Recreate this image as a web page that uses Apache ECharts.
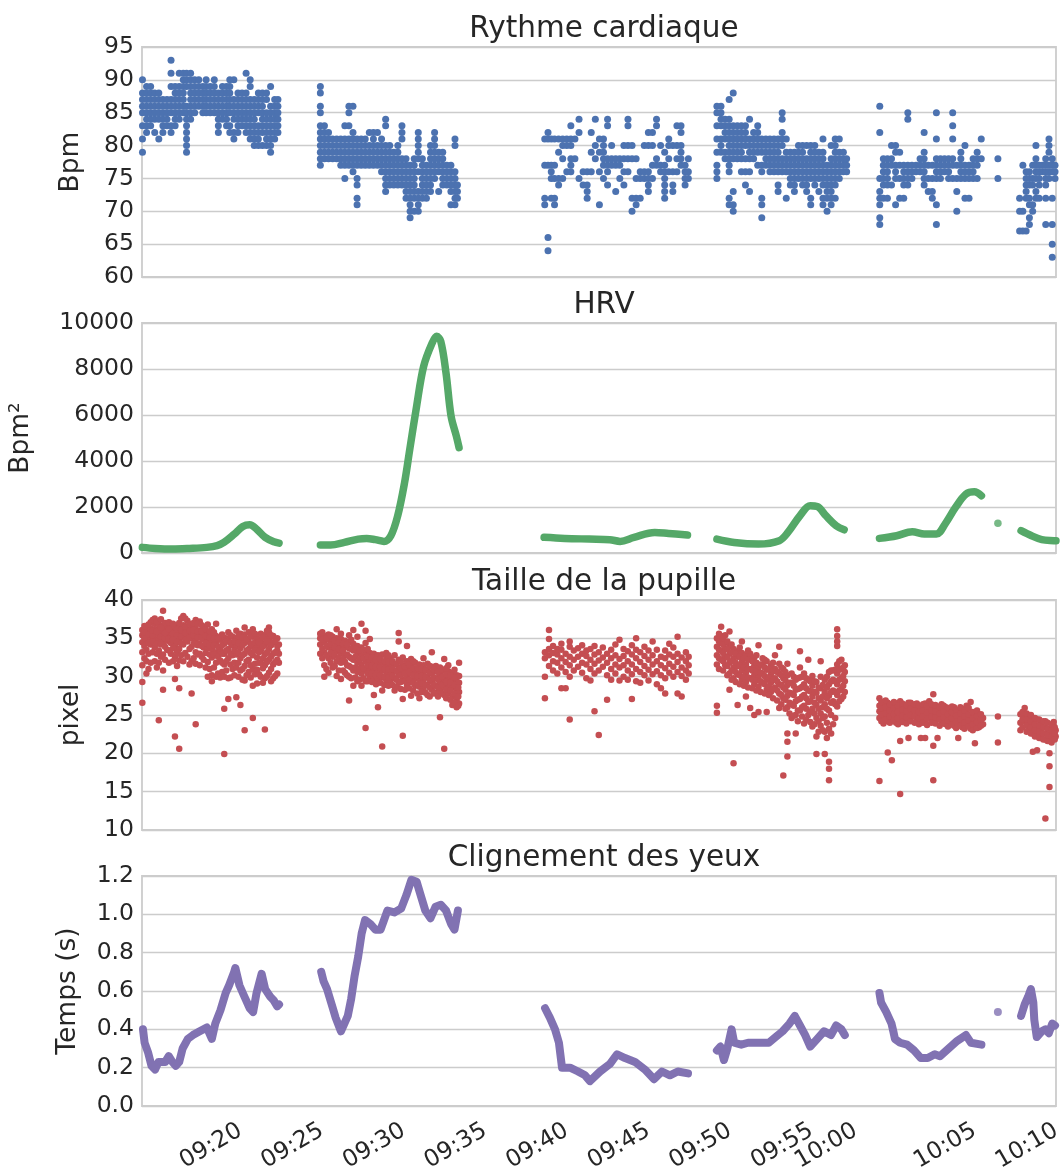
<!DOCTYPE html>
<html><head><meta charset="utf-8">
<script src="https://cdn.jsdelivr.net/npm/echarts@6/dist/echarts.min.js"></script>
<style>html,body{margin:0;padding:0;background:#fff}#c{width:1062px;height:1173px}</style>
</head><body><div id="c"></div><script>
// ---- x axis (minutes after 09:00) ----
const xMin = 15.77, xMax = 71.78;
const xLabelPos = [20, 25, 30, 35, 40, 45, 50, 55, 57.7, 65, 70];
const xLabelText = ['09:20','09:25','09:30','09:35','09:40','09:45','09:50','09:55','10:00','10:05','10:10'];

// ---- titles / axis names ----
const panelTitles = ['Rythme cardiaque', 'HRV', 'Taille de la pupille', 'Clignement des yeux'];
const axisNames = ['Bpm', 'Bpm²', 'pixel', 'Temps (s)'];

// ---- Rythme cardiaque: [minute, [bpm values]] ----
const hrColumns = [
[15.8,[79,81,83,85,86,87,88,90]],[16.05,[82,83,84,85,86,87,88,89]],[16.3,[83,84,85,86,87,88,89]],
[16.55,[82,84,85,86,87,88]],[16.8,[81,84,85,86,87,88]],[17.05,[82,83,84,85,86,87]],[17.3,[83,84,85,86,87]],
[17.55,[82,83,85,86,87,89,91,93]],[17.8,[83,84,85,86,87,88,89]],[18.05,[84,85,86,87,88,89,91]],
[18.3,[85,86,87,88,89,90,91]],[18.5,[79,80,81,82,83,84,85,86,89,90,91]],[18.75,[84,85,86,87,88,89,90,91]],
[19.0,[85,86,87,88,89,90]],[19.25,[86,87,88,89,90]],[19.5,[85,86,87,88,89]],[19.7,[85,86,87,88,89,90]],
[19.95,[85,86,87,88,89]],[20.2,[85,86,87,88,89,90]],[20.45,[82,83,84,85,86,87,88]],[20.7,[84,85,86,87,88,89]],
[20.95,[83,84,85,86,87,88,89]],[21.15,[82,83,85,86,87,88,89,90]],[21.4,[81,82,84,85,86,87,90]],
[21.65,[82,83,84,85,86,87,88]],[21.9,[83,84,85,86,87,88]],[22.15,[82,83,84,85,86,87,88,91]],
[22.4,[81,82,83,84,85,86,87,89,90]],[22.65,[80,81,82,83,84,85,86,87]],[22.9,[80,81,82,83,85,86,87,88]],
[23.15,[80,82,83,84,85,86,87,88]],[23.4,[80,81,82,83,84,85,87,88]],[23.65,[79,80,81,82,83,84,85,86,89]],
[23.9,[81,82,83,84,85,86,87]],[24.1,[82,83,84,85,86,87]],
[26.7,[77,78,79,80,81,82,83,85,86,88,89]],[26.95,[78,79,80,81,82,83]],[27.2,[78,79,80,81,82]],
[27.45,[78,79,80,81]],[27.7,[78,79,80,81]],[27.95,[77,78,79,80,81]],[28.2,[75,77,78,79,80,81,83]],
[28.45,[77,78,79,80,81,83,85,86]],[28.7,[76,77,78,79,80,81,82,86]],[28.95,[71,72,74,75,77,78,79,80,81]],
[29.2,[77,78,79,80,81]],[29.45,[77,78,79,80,81]],[29.7,[77,78,79,80,82]],[29.95,[77,78,79,80,81,82]],
[30.2,[77,78,79,80,82]],[30.45,[76,77,78,79,80,81]],[30.7,[73,74,75,76,77,78,79,80,83,84]],
[30.95,[74,75,76,77,78,79,80]],[31.2,[74,75,76,77,78,79]],[31.45,[74,75,76,77,78,79,80]],
[31.7,[74,75,76,77,78,81,82,83]],[31.95,[72,73,74,75,76,77,78]],[32.2,[69,70,71,72,73,74,75,76,77]],
[32.45,[70,72,73,74,75,76,77,78]],[32.7,[70,71,72,73,76,78,79,80,81,82]],[32.95,[72,73,74,75,76,77,78]],
[33.2,[72,73,74,75,76,77]],[33.45,[73,74,75,76,77,78,79,80]],[33.7,[75,76,77,78,79,80,81,82]],
[33.95,[73,76,77,78,79]],[34.2,[74,75,76,77,78,79]],[34.45,[74,75,76,77]],[34.7,[71,73,74,75,76,77]],
[34.95,[71,72,73,74,75,76,80,81]],[35.1,[72,73,74]],
[40.45,[71,72,77,81]],[40.65,[64,66,77,81,82]],[40.85,[72,75,76,77,81]],[41.05,[71,72,75,77,81]],
[41.3,[74,75,79,81]],[41.55,[75,78,80,81]],[41.8,[76,80,81]],[42.05,[76,77,78,80,81,83]],[42.3,[78,81]],
[42.55,[75,82,84]],[42.8,[74,76]],[43.05,[72,73,74,76]],[43.3,[76,79,82]],[43.55,[78,80,84]],
[43.8,[71,76,79,81]],[44.05,[75,77,78,79,80,81]],[44.3,[74,76,77,78,83,84]],[44.55,[77,78,80]],
[44.8,[73,77,78]],[45.05,[75,77,78]],[45.3,[74,76,78,80]],[45.55,[76,78,80,83,84]],[45.8,[70,72,78,80]],
[46.05,[71,72,75,78]],[46.3,[72,75,76]],[46.55,[75,76,80]],[46.8,[73,74,75,76,80,82]],[47.05,[75,77,80,82]],
[47.3,[77,78,83,84]],[47.55,[76,77,80]],[47.8,[72,73,74,75,76,77,79]],[48.05,[76,78,80,81]],
[48.3,[73,74,76,80]],[48.55,[76,78,80,83]],[48.8,[77,78,79,80,82,83]],[49.05,[74,75,76,77]],[49.25,[75,76,78]],
[51.0,[75,76,77,79,81,83,85,86]],[51.25,[79,80,81,83,84,85,86]],[51.5,[78,79,81,82,83,84]],
[51.75,[71,72,76,77,78,79,80,81,82,83,84,87]],[52.0,[70,71,73,78,79,80,81,82,83,88]],[52.25,[78,79,80,81,82,83]],
[52.5,[76,78,79,80,81,82,83]],[52.75,[74,76,78,80,81,82,83]],[53.0,[73,76,78,79,80,81,84]],
[53.25,[78,79,80,81,82]],[53.5,[77,79,80,81,82,83]],[53.75,[69,71,72,76,77,79,80,81]],[54.0,[77,78,79,80,81]],
[54.25,[76,77,78,79,80,81]],[54.5,[76,77,78,79,80,81]],[54.75,[73,74,76,77,78,79,80,81]],
[55.0,[76,77,78,80,81,82,84,85]],[55.25,[72,76,77,78,79,81]],[55.5,[74,75,76,77,78,79]],
[55.75,[73,74,75,76,77,78,79]],[56.0,[75,76,77,78,79,80]],[56.25,[74,75,76,77,78,79,80]],
[56.5,[73,74,75,76,77,78,80]],[56.75,[71,72,75,76,77,78,79,80]],[57.0,[74,75,76,77,78,79,80]],
[57.25,[73,75,76,77,78,79]],[57.5,[71,72,74,75,76,77,78,79,81]],[57.75,[70,72,73,74,75,76,77]],
[58.0,[71,72,73,74,75,76,77,78,80]],[58.25,[72,74,75,76,77,78,79,80,81]],[58.5,[75,76,77,78,79,81]],
[58.75,[76,77,78,79]],[58.95,[76,77,78]],
[60.98,[68,69,71,72,73,75,82,86]],[61.2,[72,74,75,76,77,78]],[61.45,[72,74,75,76,77,78]],[61.7,[74,77,78,80]],
[61.95,[71,75,76,77,79,80]],[62.2,[72,75,77,79]],[62.45,[72,74,75,76,77]],[62.7,[74,75,76,77,84,85]],
[62.95,[75,76,77]],[63.2,[76,77]],[63.45,[76,77,78]],[63.7,[74,75,76,77,78,79,82]],[63.95,[73,75,77]],
[64.2,[72,73,75,77]],[64.45,[68,71,75,76,77,78,81,85]],[64.7,[75,76,77,78]],[64.95,[76,77,78]],
[65.2,[75,76,77,78]],[65.45,[75,77,78,81,83,85]],[65.7,[70,73,75,77]],[65.95,[75,76,77,78,79]],
[66.2,[72,75,76,77,80]],[66.45,[72,75,76,77]],[66.7,[75,76,77,78]],[66.95,[75,77,78,79]],[67.2,[78,81]],
[68.22,[75,78]],
[69.55,[67,70,72]],[69.75,[67,70,77]],[69.95,[67,72,73,74,75,76]],[70.15,[68,69,71,72,74,75,76]],
[70.35,[70,71,74,75,77]],[70.55,[72,73,75,76,77,78,80]],[70.75,[72,74,75,76,77]],[70.95,[76,77]],
[71.15,[68,72,74,75,76,77,78]],[71.35,[75,76,77,79,80,81]],[71.55,[63,65,68,72,76,77,78]],[71.72,[75,76,77]]
];

// ---- HRV (Bpm²), one array per continuous segment ----
const hrvSegA = [[15.79,245],[16.57,200],[17.63,175],[18.68,200],[19.74,245],[20.37,320],[20.79,460],[21.42,820],[21.95,1155],[22.37,1230],[22.79,1040],[23.32,680],[23.85,490],[24.17,430]];
const hrvSegB = [[26.7,345],[27.33,345],[28.17,460],[29.02,605],[29.54,635],[30.07,580],[30.6,505],[31.02,750],[31.44,1620],[31.86,3060],[32.18,4510],[32.6,6390],[33.03,8120],[33.55,9130],[33.83,9420],[34.08,9200],[34.4,7830],[34.71,5950],[35.03,5090],[35.2,4580]];
const hrvSegC = [[40.41,680],[41.68,635],[43.17,605],[44.44,580],[45.07,505],[45.92,680],[47.19,895],[48.04,850],[49.2,780]];
const hrvSegD = [[51.0,605],[52.06,460],[53.55,390],[54.82,535],[55.35,895],[56.09,1620],[56.72,2050],[57.15,2020],[57.68,1620],[58.31,1185],[58.8,1010]];
const hrvSegE = [[60.96,635],[62.02,750],[62.97,925],[63.71,825],[64.45,825],[64.98,1255],[65.62,1980],[66.26,2560],[66.78,2660],[67.21,2485]];
const hrvSegF = [[69.64,970],[70.28,750],[70.91,580],[71.66,535],[71.78,530]];
const hrvLone = [[68.22,1290]];

// ---- Taille de la pupille: [minute, [pixel values]] ----
const pupilColumns = [
[15.79,[26.6,29.3,31.5,33.2,34.5,35.4,36.1]],[16.04,[30.4,32.0,33.5,34.6,35.3,35.9,36.4]],[16.3,[31.8,34.2,35.0,35.7,36.3,37.1]],
[16.55,[32.0,33.8,34.9,35.6,36.2,36.9,37.6]],[16.8,[24.3,31.8,33.4,34.8,35.5,36.1,36.8]],[17.06,[28.3,30.8,32.9,34.5,35.3,36.0,36.7,38.6]],
[17.31,[33.5,34.7,35.4,36.0,36.6]],[17.54,[33.0,34.4,35.2,35.8,36.4]],[17.79,[22.2,29.7,32.6,34.0,35.1,35.9,36.5]],
[18.05,[20.6,28.5,32.1,33.6,34.8,35.7,36.3,37.0]],[18.3,[32.0,34.2,35.2,35.9,36.7,37.9]],[18.55,[32.6,34.6,35.5,36.2,37.3]],
[18.81,[27.8,32.0,33.9,35.0,35.8,36.4]],[19.06,[23.8,31.7,33.2,34.8,35.6,36.3,37.4]],[19.31,[31.5,33.0,34.3,35.2,36.0,37.2]],
[19.55,[32.2,33.8,34.9,35.7,36.5]],[19.8,[30.0,31.9,33.7,34.8,35.5,36.8]],[20.05,[29.4,30.2,32.5,33.6,34.6,35.4,36.2]],
[20.31,[30.0,31.8,33.2,34.5,35.3,36.9]],[20.56,[29.9,32.1,33.5,34.8]],[20.81,[19.9,25.8,30.0,31.6,33.0,34.3,35.1]],
[21.06,[27.1,29.8,32.4,33.6,34.9,35.8]],[21.32,[31.0,32.8,34.1,35.2]],[21.55,[27.3,31.2,32.9,34.0,35.0,36.0]],
[21.8,[26.3,30.8,32.4,33.7,34.8,35.6]],[22.06,[23.0,29.5,31.4,33.0,34.4,35.5,36.4]],[22.31,[30.6,32.2,33.6,34.6,35.8]],
[22.56,[24.6,28.8,31.0,32.8,34.0,35.2,36.2]],[22.82,[29.1,30.9,32.5,33.9,35.0]],[23.05,[30.0,31.8,33.4,34.6,35.6]],
[23.3,[23.1,29.8,31.5,32.9,34.2,35.4]],[23.55,[30.5,32.2,33.6,34.9,35.8,36.4]],[23.81,[29.8,31.6,33.0,34.5,35.3]],
[24.06,[30.4,32.2,33.4,34.0,35.0]],[24.16,[31.8,33.0,34.2]],
[26.69,[33.0,34.2,35.0,35.6]],[26.94,[30.0,31.5,33.2,34.5,35.3]],[27.2,[30.5,32.4,33.8,34.8,35.5]],
[27.45,[31.2,32.6,33.5,34.6,35.2]],[27.7,[30.1,32.0,33.3,34.2,35.0,36.2]],[27.96,[29.7,31.8,33.0,34.0,34.9,35.6]],
[28.21,[30.5,31.9,32.8,33.9,34.7]],[28.46,[26.9,30.0,31.4,32.6,33.7,34.5,35.4]],[28.72,[28.8,30.8,32.2,33.4,34.3,36.1]],
[28.97,[29.4,30.6,31.8,33.0,34.0,35.2]],[29.22,[28.8,30.4,31.6,32.8,33.8,36.9]],[29.47,[23.3,29.4,30.8,32.0,33.2,34.4,36.0]],
[29.73,[29.9,31.0,32.1,33.1,34.9]],[29.98,[27.6,29.8,30.9,31.9,33.0]],[30.23,[26.0,29.6,30.6,31.7,32.8]],
[30.49,[20.9,28.2,29.9,30.8,31.8,32.9]],[30.74,[29.5,30.6,31.5,32.6,33.1]],[30.99,[29.4,30.4,31.3,32.4]],
[31.25,[28.2,29.8,30.7,31.6,32.8]],[31.5,[29.2,30.3,31.2,32.2,34.6,35.7]],[31.75,[22.3,27.1,29.6,30.6,31.5,32.5]],
[32.01,[28.9,30.0,31.0,32.0,34.0]],[32.26,[27.5,29.3,30.4,31.4,32.3]],[32.51,[28.8,29.8,30.8,31.8]],
[32.77,[27.2,28.7,29.7,30.6,31.6]],[33.02,[28.4,29.5,30.5,31.5,32.4]],[33.27,[27.6,28.9,29.9,30.8,31.7]],
[33.53,[28.3,29.4,30.4,31.3,33.2]],[33.78,[27.9,28.8,29.8,30.7,31.4]],[34.03,[24.7,28.2,29.3,30.3,31.2]],
[34.29,[20.6,27.6,28.7,29.7,30.8,32.3]],[34.54,[27.8,28.9,29.9,30.7,31.5]],[34.79,[26.3,27.4,28.6,29.6,30.5]],
[35.05,[26.0,27.0,28.3,29.4,30.2]],[35.2,[26.5,28.0,29.2,30.1,31.8]],
[40.46,[27.2,30.0,32.4,33.2]],[40.71,[31.4,32.8,33.6,34.9,36.1]],[40.96,[30.8,32.0,33.1,34.0]],[41.22,[30.4,31.8,32.9,33.6]],
[41.47,[28.5,31.2,32.4,33.5,34.3]],[41.73,[28.5,30.6,31.9,33.0]],[41.98,[24.4,30.0,31.5,32.6,33.9,34.6]],
[42.23,[30.8,32.2,33.4]],[42.49,[31.3,32.6,33.7]],[42.74,[30.5,31.8,33.0,34.1]],[43.0,[29.8,31.6,32.7,33.4]],
[43.25,[29.5,31.0,32.2,33.6]],[43.5,[25.5,30.4,31.7,32.9,34.0]],[43.76,[22.4,30.8,32.1,33.2]],[44.01,[31.3,32.5,33.8]],
[44.27,[27.0,30.2,31.8,33.0]],[44.52,[29.6,31.0,32.4,33.5]],[44.78,[30.4,31.6,32.8,34.2]],[45.03,[29.5,31.2,32.3,34.8]],
[45.28,[30.0,31.5,32.7,33.6]],[45.54,[29.6,30.8,32.0,33.3]],[45.79,[27.1,30.3,31.6,32.9,34.1]],[46.05,[29.4,31.0,32.4,33.5,35.0]],
[46.3,[29.2,30.6,31.9,33.2]],[46.56,[30.2,31.4,32.7,33.9]],[46.81,[29.5,30.9,32.2,33.4]],[47.06,[30.3,31.6,32.8,34.6]],
[47.32,[29.0,30.7,32.0,33.5]],[47.57,[28.5,30.2,31.5,32.6]],[47.83,[27.8,29.8,31.1,32.4,33.4]],[48.08,[30.5,31.7,32.9,34.3]],
[48.33,[30.0,31.3,32.6,33.8]],[48.59,[27.8,30.6,31.9,33.0,35.2]],[48.84,[27.4,30.1,31.2,32.5]],[49.1,[29.6,30.8,32.0,33.2]],
[49.27,[30.4,31.5,32.6]],
[51.0,[25.3,26.2,31.6,32.8,33.9,35.0]],[51.26,[32.2,33.4,34.4,35.3,36.5]],[51.51,[31.5,32.6,33.7,34.5,35.4]],
[51.77,[28.3,30.4,31.8,33.0,34.0,35.9]],[52.02,[18.7,29.8,31.2,32.4,33.6]],[52.27,[26.3,30.3,31.4,32.6,33.3]],
[52.53,[29.6,30.8,31.9,33.1,34.6]],[52.78,[27.4,29.3,30.5,31.6,32.8]],[53.04,[25.9,29.8,31.0,32.3,33.0]],
[53.29,[25.0,29.0,30.2,31.4,32.5]],[53.55,[25.4,28.7,30.0,31.2,34.1]],[53.8,[29.2,30.4,31.6,32.4]],
[54.05,[25.4,28.3,29.6,30.9,32.0]],[54.31,[28.0,29.2,30.3,31.5]],[54.56,[28.6,29.8,31.0,32.8]],
[54.82,[25.9,27.8,29.0,30.4,31.7,33.9]],[55.07,[17.1,27.2,28.6,29.8,31.0]],[55.32,[19.6,21.5,22.6,26.0,27.5,28.9,30.2,31.7]],
[55.58,[24.6,26.4,27.8,29.2,30.4]],[55.83,[22.6,25.0,26.8,28.3,29.6]],[56.09,[25.6,27.1,28.5,29.9,31.2,33.3]],
[56.34,[23.9,26.2,27.6,29.0,30.4]],[56.6,[25.0,26.7,28.2,29.6,32.2]],[56.85,[23.5,25.8,27.4,28.8,30.1]],
[57.1,[19.9,22.2,24.6,26.3,27.9,29.3]],[57.36,[23.6,25.2,26.9,28.5,30.0,32.0]],[57.61,[19.9,22.8,24.8,26.4,28.0,29.6]],
[57.87,[16.5,18.0,18.9,23.2,25.6,27.5,29.0,30.6]],[58.12,[23.8,26.8,28.2,29.6,30.8]],
[58.37,[26.1,27.6,29.0,30.4,31.6,34.0,34.6,35.3,36.2]],[58.63,[27.1,28.4,29.8,31.0,32.2]],[58.84,[28.0,29.4,30.6,31.5]],
[60.96,[16.4,24.6,25.5,26.2,27.2]],[61.21,[23.9,24.8,25.6,26.4]],[61.47,[20.1,24.2,25.0,25.8,26.6]],
[61.72,[19.1,24.6,25.4,26.2]],[61.98,[24.0,24.9,25.7,26.5]],[62.23,[14.7,21.6,24.4,25.2,26.0,26.8]],
[62.48,[24.6,25.4,26.2]],[62.74,[22.0,24.3,25.1,25.9,26.6]],[62.99,[24.8,25.6,26.3]],[63.25,[24.2,25.0,25.8,26.5]],
[63.5,[22.0,24.5,25.3,26.1]],[63.76,[22.0,24.1,24.9,25.7,26.5]],[64.01,[24.6,25.4,26.2,26.8]],
[64.26,[16.5,21.0,24.2,25.0,25.8,27.7]],[64.52,[22.0,24.5,25.3,26.1]],[64.77,[24.0,24.8,25.6,26.4]],
[65.03,[23.8,24.6,25.4,26.0]],[65.28,[24.3,25.1,25.9]],[65.53,[23.6,24.4,25.2,26.0]],[65.79,[22.0,23.9,24.7,25.5]],
[66.04,[23.4,24.2,25.0,25.8]],[66.3,[23.8,24.6,25.4,26.2]],[66.55,[23.2,24.0,24.8,26.7]],[66.81,[21.3,23.6,24.4,25.2]],
[67.06,[23.4,24.2,25.0]],[67.31,[23.8,24.6]],
[68.22,[21.4,24.8]],
[69.6,[23.0,24.0,25.1]],[69.86,[24.2,25.0,25.9]],[70.11,[23.0,23.8,24.6]],[70.36,[20.2,22.6,23.4,24.2]],
[70.62,[20.4,22.8,23.6,24.4]],[70.87,[22.4,23.2,24.0]],[71.13,[11.5,21.8,22.6,23.4,24.2]],
[71.38,[15.6,18.3,20.0,21.6,22.4,23.2]],[71.64,[21.9,22.7,23.5,24.1]],[71.76,[22.2,23.0]]
];
// denser in-between readings of the pupil cloud (dense stretches only)
const pupilColumnsMid = [
[15.92,[32.4,34.0,35.0,35.8,36.6]],[16.17,[31.0,33.0,34.4,35.5,36.8]],[16.42,[33.2,34.6,35.4,36.0,37.4]],
[16.68,[31.2,33.0,34.3,35.9,37.2]],[16.93,[32.6,34.2,35.2,36.4,37.5]],[17.18,[32.2,33.9,35.0,35.7,37.0]],
[17.42,[31.8,33.4,34.9,36.2,37.1]],[17.67,[32.0,33.7,34.8,35.6,36.9]],[17.92,[31.4,33.2,34.5,35.4,36.2]],
[18.17,[32.8,34.3,35.3,36.1,37.6]],[18.42,[33.1,34.8,35.7,36.5,37.6]],[18.68,[31.6,33.6,35.1,36.0,36.9]],
[18.93,[32.4,34.3,35.4,36.1,37.0]],[19.18,[32.9,34.1,35.1,35.9,36.9]],[19.43,[32.6,34.0,35.0,35.9,36.7]],
[19.67,[31.2,33.1,34.4,35.3,36.2]],[19.92,[31.0,32.9,34.1,35.1,35.9]],[20.18,[31.2,32.9,34.1,35.0,35.8]],
[20.43,[30.4,32.6,33.9,35.0]],[20.68,[30.6,31.8,33.0,34.1,35.5]],[20.93,[30.8,32.0,33.4,34.6]],
[21.19,[29.9,31.6,33.0,34.4,35.4]],[21.43,[30.2,31.8,33.4,34.6]],[21.68,[30.0,31.8,33.2,34.4,35.3]],
[21.93,[29.6,31.0,32.8,34.1,35.1]],[22.18,[30.2,32.0,33.4,34.9]],[22.43,[29.9,31.5,33.1,34.2,35.3]],
[22.69,[30.3,31.7,33.4,34.5,35.6]],[22.94,[30.3,31.8,33.2,34.5]],[23.18,[29.2,31.1,32.4,33.9,35.1]],
[23.43,[30.1,31.9,33.2,34.6,36.0]],[23.68,[29.4,31.0,32.6,34.1,35.4]],[23.93,[30.1,31.9,33.2,34.6]],
[26.82,[32.4,33.6,34.8,35.8]],[27.07,[31.0,32.8,34.0,35.0]],[27.33,[31.8,33.1,34.2,35.4]],[27.58,[31.4,32.8,33.8,34.7]],
[27.83,[30.8,32.4,33.6,34.5]],[28.09,[30.8,32.2,33.4,34.3]],[28.34,[30.2,31.5,32.9,34.2]],[28.59,[29.8,31.2,32.4,33.6,34.8]],
[28.85,[29.9,31.2,32.6,33.6]],[29.1,[29.6,31.0,32.2,33.4]],[29.35,[29.8,31.1,32.4,33.5]],[29.6,[29.4,30.4,31.5,32.6,33.6]],
[29.86,[29.3,30.4,31.4,32.5]],[30.11,[29.0,30.2,31.3,32.2]],[30.36,[29.2,30.2,31.2,32.3]],[30.62,[28.9,30.0,31.0,32.0]],
[30.87,[28.8,29.9,30.9,31.9,32.8]],[31.12,[28.9,30.1,31.0,32.0]],[31.38,[28.7,29.6,30.7,31.7]],[31.63,[28.4,29.3,30.2,31.1,32.0]],
[31.88,[28.3,29.4,30.4,31.3]],[32.14,[28.5,29.6,30.6,31.6]],[32.39,[28.2,29.2,30.2,31.1,32.0]],[32.64,[27.8,29.0,30.1,31.1]],
[32.9,[28.0,29.1,30.1,31.0]],[33.15,[27.9,28.9,30.0,30.9]],[33.4,[27.4,28.6,29.6,30.5,31.4]],[33.66,[27.8,28.9,29.9,30.9]],
[33.91,[27.4,28.6,29.6,30.6]],[34.16,[27.8,28.9,30.0,30.9]],[34.41,[27.2,28.3,29.3,30.3,31.1]],[34.67,[27.0,28.2,29.2,30.2]],
[34.92,[26.6,27.8,28.9,29.9,30.9]],[35.15,[26.2,27.4,28.6]],
[51.13,[31.0,32.4,33.5,34.6,35.6]],[51.38,[30.8,32.0,33.1,34.2,35.0]],[51.64,[30.2,31.4,32.5,33.6,34.6]],
[51.9,[29.6,30.8,32.0,33.2,34.2]],[52.15,[29.3,30.6,31.8,33.0]],[52.4,[29.0,30.2,31.5,32.6,33.8]],
[52.66,[28.8,30.0,31.2,32.4]],[52.91,[28.6,29.9,31.0,32.2,33.4]],[53.17,[28.5,29.6,30.8,32.0]],
[53.42,[28.2,29.5,30.6,31.8,32.8]],[53.68,[28.0,29.4,30.5,31.6]],[53.93,[27.8,29.0,30.1,31.2,32.2]],
[54.18,[27.6,28.7,29.9,31.0]],[54.44,[27.2,28.4,29.6,30.7,31.8]],[54.69,[26.9,28.2,29.4,30.6]],
[54.95,[26.4,27.6,28.9,30.2,31.2]],[55.2,[25.8,27.0,28.3,29.5,30.6]],[55.45,[25.2,26.6,27.9,29.2]],
[55.71,[24.9,26.2,27.6,28.8,30.0]],[55.96,[24.2,25.6,27.0,28.4,29.8]],[56.22,[24.8,26.0,27.4,28.7,30.0]],
[56.47,[24.4,25.8,27.2,28.5,29.8]],[56.72,[24.1,25.4,26.8,28.1,29.4]],[56.98,[23.8,25.2,26.6,28.0,29.4]],
[57.23,[22.8,24.2,25.8,27.2,28.6]],[57.49,[23.0,24.6,26.0,27.4,28.9]],[57.74,[22.0,24.0,25.8,27.2,28.6,30.0]],
[58.0,[22.6,25.0,26.6,28.0,29.4,30.8]],[58.25,[24.6,26.4,28.0,29.4,30.9]],[58.5,[26.8,28.2,29.6,30.9,32.0]],
[58.74,[27.4,28.8,30.1,31.2]],
[61.08,[24.2,25.1,25.9,26.7]],[61.34,[24.4,25.2,26.0,26.9]],[61.6,[24.0,24.8,25.6,26.4]],[61.85,[24.3,25.1,25.9,26.7]],
[62.1,[23.8,24.6,25.4,26.2]],[62.36,[24.1,24.9,25.7,26.5]],[62.61,[23.9,24.7,25.5,26.3]],[62.87,[24.2,25.0,25.8,26.6]],
[63.12,[24.0,24.8,25.6,26.4]],[63.38,[23.8,24.6,25.4,26.2]],[63.63,[24.0,24.8,25.6,26.4]],[63.88,[23.7,24.5,25.3,26.1]],
[64.14,[24.0,24.8,25.6,26.4]],[64.39,[23.9,24.7,25.5,26.3]],[64.65,[23.6,24.4,25.2,26.0]],[64.9,[23.9,24.7,25.5,26.2]],
[65.16,[23.5,24.3,25.1,25.9]],[65.41,[23.8,24.6,25.4,26.1]],[65.66,[23.3,24.1,24.9,25.7]],[65.92,[23.6,24.4,25.2,26.0]],
[66.17,[23.2,24.0,24.8,25.6]],[66.43,[23.5,24.3,25.1,25.9]],[66.68,[23.0,23.8,24.6,25.4]],[66.94,[23.3,24.1,24.9,25.6]],
[67.18,[23.6,24.4,25.1]],
[69.73,[23.4,24.4,25.4]],[69.98,[22.8,23.6,24.4,25.2]],[70.24,[22.6,23.4,24.2,25.0]],[70.49,[22.2,23.0,23.8,24.6]],
[70.75,[22.0,22.8,23.6,24.4]],[71.0,[21.8,22.6,23.4,24.2]],[71.26,[21.6,22.4,23.2,24.0]],[71.51,[21.4,22.2,23.0,23.8]],
[71.7,[21.8,22.6,23.4]]
];

// ---- Clignement des yeux (s), one array per continuous segment ----
const blinkSegA = [[15.83,0.40],[15.93,0.33],[16.14,0.28],[16.35,0.21],[16.57,0.19],[16.78,0.23],[17.2,0.23],[17.41,0.26],[17.63,0.23],[17.84,0.21],[18.05,0.23],[18.26,0.30],[18.58,0.35],[18.89,0.37],[19.31,0.39],[19.74,0.41],[20.05,0.35],[20.26,0.43],[20.58,0.50],[20.9,0.59],[21.11,0.63],[21.42,0.70],[21.49,0.72],[21.74,0.63],[22.05,0.57],[22.37,0.51],[22.58,0.49],[22.79,0.59],[23.1,0.69],[23.32,0.61],[23.63,0.57],[23.85,0.55],[24.06,0.52],[24.17,0.53]];
const blinkSegB = [[26.75,0.70],[26.9,0.65],[27.11,0.61],[27.43,0.52],[27.64,0.46],[27.96,0.39],[28.17,0.43],[28.38,0.47],[28.59,0.56],[28.8,0.68],[29.02,0.78],[29.23,0.90],[29.44,0.97],[29.76,0.95],[30.07,0.92],[30.39,0.92],[30.6,0.97],[30.81,1.02],[31.23,1.01],[31.65,1.03],[31.97,1.10],[32.28,1.18],[32.6,1.17],[32.81,1.11],[33.13,1.02],[33.45,0.98],[33.76,1.04],[34.08,1.05],[34.4,1.02],[34.71,0.95],[34.92,0.92],[35.13,1.02]];
const blinkSegC = [[40.47,0.51],[40.77,0.46],[41.08,0.40],[41.32,0.33],[41.51,0.20],[42.0,0.20],[42.49,0.18],[42.92,0.16],[43.22,0.13],[43.84,0.18],[44.45,0.22],[44.88,0.27],[45.37,0.25],[45.98,0.23],[46.59,0.19],[47.15,0.14],[47.63,0.18],[48.12,0.16],[48.6,0.18],[49.23,0.17]];
const blinkSegD = [[51.0,0.29],[51.22,0.31],[51.43,0.24],[51.64,0.30],[51.9,0.40],[52.06,0.33],[52.49,0.32],[52.91,0.33],[53.55,0.33],[54.18,0.33],[54.6,0.36],[55.03,0.39],[55.45,0.43],[55.77,0.47],[56.09,0.42],[56.41,0.37],[56.72,0.31],[57.15,0.35],[57.57,0.39],[57.99,0.37],[58.31,0.42],[58.63,0.40],[58.84,0.37]];
const blinkSegE = [[60.96,0.59],[61.06,0.54],[61.38,0.49],[61.7,0.43],[61.81,0.39],[61.91,0.35],[62.23,0.33],[62.65,0.32],[63.08,0.29],[63.5,0.25],[63.92,0.25],[64.35,0.27],[64.67,0.26],[65.2,0.30],[65.73,0.34],[66.26,0.37],[66.57,0.33],[67.21,0.32]];
const blinkSegF = [[69.64,0.47],[69.86,0.53],[70.07,0.57],[70.24,0.61],[70.39,0.54],[70.45,0.45],[70.6,0.36],[70.91,0.39],[71.13,0.40],[71.34,0.38],[71.55,0.43],[71.72,0.42]];
const blinkLone = [[68.22,0.49]];

// ---- y axis tick settings ----
const yRanges = [[60, 95, 5], [0, 10000, 2000], [10, 40, 5], [0, 1.2, 0.2]];

// ================= build chart =================
const FONT = 'DejaVu Sans';
const TXT = '#262626';
const GRID_C = '#cccccc';
const colors = { hr: '#4C72B0', hrv: '#55A868', pupil: '#C44E52', blink: '#8172B2' };
const gridTops = [47, 323, 600, 876];
const nameGaps = [57, 107, 57, 60];

const flat = cols => cols.flatMap(([t, vs]) => vs.map(v => [t, v]));

const grids = gridTops.map(t => ({
  left: 142, width: 914, top: t, height: 230,
  show: true, borderColor: GRID_C, borderWidth: 1.8, backgroundColor: '#fff',
  outerBoundsMode: 'none', containLabel: false
}));

const xAxes = gridTops.map((t, i) => ({
  type: 'value', gridIndex: i, min: xMin, max: xMax,
  axisLine: { show: false }, axisTick: { show: false }, splitLine: { show: false },
  axisLabel: i === 3 ? {
    show: true, customValues: xLabelPos, rotate: 30, align: 'center', verticalAlign: 'middle',
    margin: 40, hideOverlap: false, fontSize: 23.5, fontFamily: FONT, color: TXT,
    formatter: v => { const k = xLabelPos.findIndex(p => Math.abs(p - v) < 1e-6); return k >= 0 ? xLabelText[k] : ''; }
  } : { show: false }
}));

const yAxes = yRanges.map(([mn, mx, iv], i) => ({
  type: 'value', gridIndex: i, min: mn, max: mx, interval: iv,
  axisLine: { show: false }, axisTick: { show: false },
  splitLine: { show: true, lineStyle: { color: GRID_C, width: 1.4 } },
  axisLabel: { margin: 8, fontSize: 23.5, fontFamily: FONT, color: TXT,
    formatter: i === 3 ? (v => v.toFixed(1)) : (v => String(v)) },
  name: axisNames[i], nameLocation: 'middle', nameRotate: 90, nameGap: nameGaps[i],
  nameTextStyle: { fontSize: 26.5, fontFamily: FONT, color: TXT }
}));

const titles = panelTitles.map((txt, i) => ({
  text: txt, left: 599, textAlign: 'center', top: gridTops[i] - 38,
  textStyle: { fontSize: 29.5, fontWeight: 'normal', fontFamily: FONT, color: TXT }
}));

const lineSeries = (data, idx, color, w, smooth) => ({
  type: 'line', xAxisIndex: idx, yAxisIndex: idx, data, showSymbol: false, smooth,
  lineStyle: { color, width: w, cap: 'round', join: 'round' }, silent: true, animation: false
});

const series = [
  { type: 'scatter', xAxisIndex: 0, yAxisIndex: 0, data: flat(hrColumns), symbolSize: 7,
    itemStyle: { color: colors.hr, opacity: 1 }, animation: false, silent: true },
  ...[hrvSegA, hrvSegB, hrvSegC, hrvSegD, hrvSegE, hrvSegF].map(s => lineSeries(s, 1, colors.hrv, 7.5, 0.35)),
  { type: 'scatter', xAxisIndex: 1, yAxisIndex: 1, data: hrvLone, symbolSize: 7.5,
    itemStyle: { color: colors.hrv }, animation: false, silent: true },
  { type: 'scatter', xAxisIndex: 2, yAxisIndex: 2, data: flat(pupilColumns).concat(flat(pupilColumnsMid)), symbolSize: 6.5,
    itemStyle: { color: colors.pupil, opacity: 1 }, animation: false, silent: true },
  ...[blinkSegA, blinkSegB, blinkSegC, blinkSegD, blinkSegE, blinkSegF].map(s => lineSeries(s, 3, colors.blink, 8, false)),
  { type: 'scatter', xAxisIndex: 3, yAxisIndex: 3, data: blinkLone, symbolSize: 8,
    itemStyle: { color: colors.blink }, animation: false, silent: true }
];

const chart = echarts.init(document.getElementById('c'), null, { renderer: 'canvas' });
chart.setOption({
  backgroundColor: '#ffffff', animation: false,
  title: titles, grid: grids, xAxis: xAxes, yAxis: yAxes, series
});
</script></body></html>
